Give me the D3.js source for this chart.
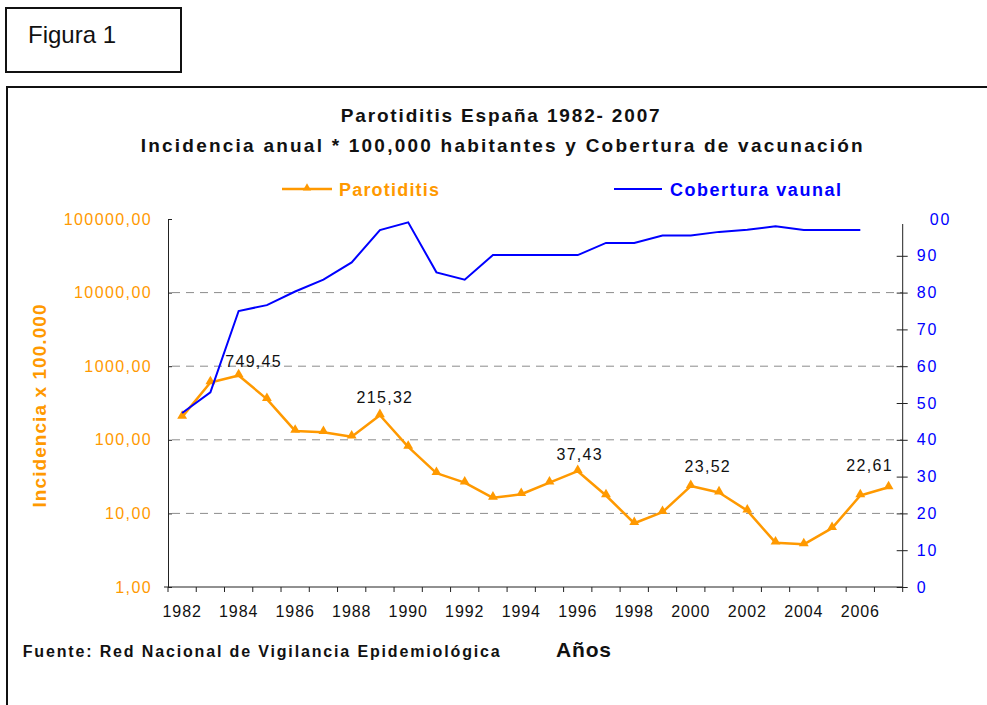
<!DOCTYPE html>
<html>
<head>
<meta charset="utf-8">
<script src="https://cdn.jsdelivr.net/npm/d3@7"></script>
<style>
	body { margin: 0; background: #fff; }
	text { font-family: "Liberation Sans", Arial, sans-serif; }
</style>
</head>
<body>
<div id="chart"></div>
<script>
// data
var years = [1982, 1983, 1984, 1985, 1986, 1987, 1988, 1989, 1990, 1991, 1992, 1993, 1994,
	1995, 1996, 1997, 1998, 1999, 2000, 2001, 2002, 2003, 2004, 2005, 2006, 2007]
var parotiditis = [205, 602, 749.45, 357, 132, 127, 110, 215.32, 80, 35.2, 26.2, 16.3, 18.2,
	26.2, 37.43, 17.5, 7.35, 10.4, 23.52, 19.2, 10.9, 4.0, 3.8, 6.3, 17.5, 22.61]
// cobertura stops at 2006
var cobertura = [47.3, 52.9, 75.0, 76.6, 80.3, 83.5, 88.2, 97.0, 99.1, 85.5, 83.5, 90.2, 90.2,
	90.2, 90.2, 93.5, 93.5, 95.5, 95.5, 96.5, 97.1, 98.0, 97.0, 97.0, 97.0]
var labelledYears = [1984, 1989, 1996, 2000, 2007]
var yearLabels = [1982, 1984, 1986, 1988, 1990, 1992, 1994, 1996, 1998, 2000, 2002, 2004, 2006]
var leftTicks = [1, 10, 100, 1000, 10000, 100000]
var gridTicks = [10, 100, 1000, 10000]
var rightTicks = [0, 10, 20, 30, 40, 50, 60, 70, 80, 90, 100]

var width = 987
var height = 705
var plotLeft = 168, plotRight = 902.7, plotTop = 219, plotBottom = 587
var orange = "#FF9900"
var blue = "#0000FF"

var es = d3.formatLocale({ decimal: ",", thousands: ".", grouping: [3] })
var fmt = es.format(".2f")

var svg = d3.select("#chart").append("svg")
	.attr("width", width)
	.attr("height", height)

// frames
svg.append("rect")
	.attr("x", 6).attr("y", 8).attr("width", 175).attr("height", 64)
	.attr("fill", "none").attr("stroke", "#111").attr("stroke-width", 2)
svg.append("text")
	.attr("x", 28).attr("y", 43)
	.style("font-size", "24px")
	.attr("fill", "#111")
	.text("Figura 1")
svg.append("path")
	.attr("d", "M7,710V87H990")
	.attr("fill", "none").attr("stroke", "#111").attr("stroke-width", 2)

// scales
var x = d3.scaleBand().domain(years).range([plotLeft, plotRight]).padding(0)
var y = d3.scaleLog().domain([1, 100000]).range([plotBottom, plotTop])
var y2 = d3.scaleLinear().domain([0, 100]).range([plotBottom, plotTop])
var cx = function (yr) { return x(yr) + x.bandwidth() / 2 }

// gridlines
svg.append("g").selectAll("line")
	.data(gridTicks).join("line")
	.attr("x1", plotLeft + 4).attr("x2", plotRight)
	.attr("y1", function (d) { return y(d) }).attr("y2", function (d) { return y(d) })
	.attr("stroke", "#8c8c8c").attr("stroke-width", 1)
	.attr("stroke-dasharray", "8,6")

// left axis
svg.append("g")
	.attr("transform", "translate(" + plotLeft + ",0)")
	.call(d3.axisLeft(y).tickValues(leftTicks).tickFormat(fmt).tickSizeInner(4).tickSizeOuter(0).tickPadding(12))
	.call(function (g) {
		g.select(".domain").attr("stroke", "#222")
		g.selectAll(".tick line").attr("x2", 4).attr("stroke", "#222")
		g.selectAll(".tick text").attr("fill", orange)
			.style("font-size", "16px").style("letter-spacing", "1.4px")
			.style("font-family", "Liberation Sans, Arial, sans-serif")
	})

// right axis
svg.append("g")
	.attr("transform", "translate(" + plotRight + ",0)")
	.call(d3.axisRight(y2).tickValues(rightTicks)
		.tickFormat(function (d) { return d == 100 ? "00" : d })
		.tickSizeInner(5).tickSizeOuter(0).tickPadding(9))
	.call(function (g) {
		g.select(".domain").attr("stroke", "#222").attr("d", "M0," + (plotTop + 5) + "V" + plotBottom)
		g.selectAll(".tick line").attr("x1", -6).attr("stroke", "#222")
		g.selectAll(".tick").filter(function (d) { return d == 100 }).select("line").remove()
		g.selectAll(".tick").filter(function (d) { return d == 100 }).select("text").attr("x", 27)
		g.selectAll(".tick text").attr("fill", blue)
			.style("font-size", "16px").style("letter-spacing", "1.8px")
			.style("font-family", "Liberation Sans, Arial, sans-serif")
	})

// bottom axis
svg.append("line")
	.attr("x1", plotLeft - 4).attr("x2", plotRight)
	.attr("y1", plotBottom).attr("y2", plotBottom)
	.attr("stroke", "#222")
svg.append("g").selectAll("line")
	.data(years.concat(["end"])).join("line")
	.attr("x1", function (d) { return d == "end" ? plotRight : x(d) })
	.attr("x2", function (d) { return d == "end" ? plotRight : x(d) })
	.attr("y1", plotBottom).attr("y2", plotBottom + 5)
	.attr("stroke", "#222")
svg.append("g")
	.attr("transform", "translate(0," + plotBottom + ")")
	.call(d3.axisBottom(x).tickValues(yearLabels).tickSize(0).tickPadding(19))
	.call(function (g) {
		g.select(".domain").remove()
		g.selectAll(".tick text").attr("fill", "#111")
			.style("font-size", "16px").style("letter-spacing", "0.9px")
			.style("font-family", "Liberation Sans, Arial, sans-serif")
	})

// parotiditis line
svg.append("path")
	.datum(parotiditis)
	.attr("fill", "none")
	.attr("stroke", orange)
	.attr("stroke-width", 2.5)
	.attr("stroke-linejoin", "round")
	.attr("d", d3.line()
		.x(function (d, i) { return cx(years[i]) })
		.y(function (d) { return y(d) }))

svg.append("g").selectAll("path")
	.data(parotiditis).join("path")
	.attr("transform", function (d, i) { return "translate(" + cx(years[i]) + "," + (y(d) - 1) + ")" })
	.attr("d", d3.symbol().type(d3.symbolTriangle).size(42))
	.attr("fill", orange)

// cobertura line
svg.append("path")
	.datum(cobertura)
	.attr("fill", "none")
	.attr("stroke", blue)
	.attr("stroke-width", 2)
	.attr("d", d3.line()
		.x(function (d, i) { return cx(years[i]) })
		.y(function (d) { return y2(d) }))

// data labels
var labelShift = { 1984: [15, -8], 1989: [5, -12], 1996: [2, -11], 2000: [17, -14], 2007: [-19, -16] }
svg.append("g").selectAll("text")
	.data(labelledYears).join("text")
	.attr("x", function (d) { return cx(d) + labelShift[d][0] })
	.attr("y", function (d) { return y(parotiditis[years.indexOf(d)]) + labelShift[d][1] })
	.attr("text-anchor", "middle")
	.attr("fill", "#111")
	.style("font-size", "16px")
	.style("letter-spacing", "1.3px")
	.text(function (d) { return fmt(parotiditis[years.indexOf(d)]) })

// titles
svg.append("text")
	.attr("x", 340.7).attr("y", 122)
	.attr("textLength", 319).attr("lengthAdjust", "spacing")
	.style("font-size", "19px").style("font-weight", "bold")
	.attr("fill", "#111")
	.text("Parotiditis España 1982- 2007")
svg.append("text")
	.attr("x", 140.7).attr("y", 152)
	.attr("textLength", 722).attr("lengthAdjust", "spacing")
	.style("font-size", "19px").style("font-weight", "bold")
	.attr("fill", "#111")
	.text("Incidencia anual * 100,000 habitantes y Cobertura de vacunación")

// legend
svg.append("line")
	.attr("x1", 282).attr("x2", 332).attr("y1", 189).attr("y2", 189)
	.attr("stroke", orange).attr("stroke-width", 2.5)
svg.append("path")
	.attr("transform", "translate(307,188)")
	.attr("d", d3.symbol().type(d3.symbolTriangle).size(30))
	.attr("fill", orange)
svg.append("text")
	.attr("x", 339).attr("y", 196)
	.attr("textLength", 100).attr("lengthAdjust", "spacing")
	.style("font-size", "18px").style("font-weight", "bold")
	.attr("fill", orange)
	.text("Parotiditis")
svg.append("line")
	.attr("x1", 614).attr("x2", 662).attr("y1", 189).attr("y2", 189)
	.attr("stroke", blue).attr("stroke-width", 2)
svg.append("text")
	.attr("x", 670).attr("y", 196)
	.attr("textLength", 171).attr("lengthAdjust", "spacing")
	.style("font-size", "18px").style("font-weight", "bold")
	.attr("fill", blue)
	.text("Cobertura vaunal")

// axis titles
svg.append("text")
	.attr("transform", "translate(45.5,406) rotate(-90)")
	.attr("text-anchor", "middle")
	.attr("textLength", 203).attr("lengthAdjust", "spacing")
	.style("font-size", "19px").style("font-weight", "bold")
	.attr("fill", orange)
	.text("Incidencia x 100.000")
svg.append("text")
	.attr("x", 556).attr("y", 657)
	.attr("textLength", 55).attr("lengthAdjust", "spacing")
	.style("font-size", "21px").style("font-weight", "bold")
	.attr("fill", "#111")
	.text("Años")

// source
svg.append("text")
	.attr("x", 22.7).attr("y", 657)
	.attr("textLength", 477).attr("lengthAdjust", "spacing")
	.style("font-size", "16px").style("font-weight", "bold")
	.attr("fill", "#111")
	.text("Fuente: Red Nacional de Vigilancia Epidemiológica")
</script>
</body>
</html>
